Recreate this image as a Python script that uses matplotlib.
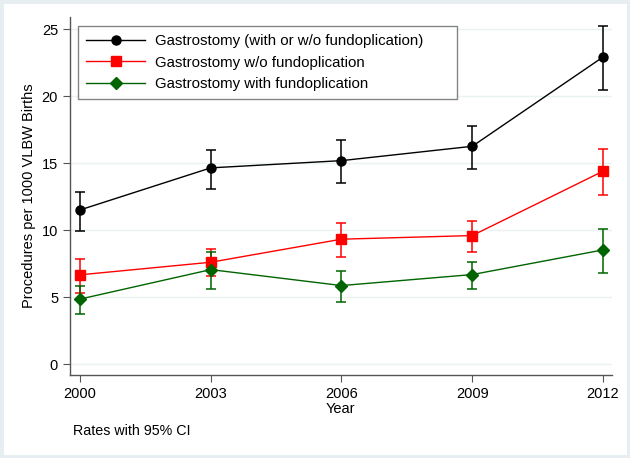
import numpy as np
import matplotlib
matplotlib.use("Agg")
import matplotlib.pyplot as plt
from matplotlib.patches import Rectangle

plt.rcParams['font.family'] = ['Liberation Sans', 'DejaVu Sans']

# Data
years = [2000, 2003, 2006, 2009, 2012]

total = [11.5, 14.64, 15.18, 16.25, 22.91]
total_lo = [9.94, 13.07, 13.52, 14.59, 20.45]
total_hi = [12.85, 15.98, 16.70, 17.77, 25.2]

no_fundo = [6.66, 7.6, 9.32, 9.59, 14.39]
no_fundo_lo = [5.27, 6.6, 8.0, 8.37, 12.6]
no_fundo_hi = [7.83, 8.6, 10.51, 10.71, 16.05]

with_fundo = [4.85, 7.05, 5.86, 6.68, 8.52]
with_fundo_lo = [3.75, 5.6, 4.67, 5.62, 6.83]
with_fundo_hi = [5.82, 8.4, 6.96, 7.63, 10.06]

labels = ["Gastrostomy (with or w/o fundoplication)",
          "Gastrostomy w/o fundoplication",
          "Gastrostomy with fundoplication"]

fig = plt.figure(figsize=(6.3, 4.58), dpi=100)
fig.patches.append(Rectangle((0, 0), 1, 1, transform=fig.transFigure,
                             facecolor='white', edgecolor='#e6eef1',
                             linewidth=5, zorder=-10))
ax = fig.add_axes([0.111, 0.181, 0.86, 0.782])

series = [
    (total, total_lo, total_hi, 'black', 'o', 6.5),
    (no_fundo, no_fundo_lo, no_fundo_hi, '#ff0000', 's', 6.5),
    (with_fundo, with_fundo_lo, with_fundo_hi, '#006400', 'D', 6),
]

handles = []
for (vals, lo, hi, col, mk, ms), lab in zip(series, labels):
    vals = np.array(vals)
    err = [vals - np.array(lo), np.array(hi) - vals]
    ax.errorbar(years, vals, yerr=err, fmt='none', ecolor=col,
                elinewidth=1.1, capsize=3.5, capthick=1.1, zorder=3)
    h, = ax.plot(years, vals, color=col, marker=mk, markersize=ms,
                 linewidth=1.0, zorder=4, label=lab)
    handles.append(h)

ax.set_xlim(1999.77, 2012.2)
ax.set_ylim(-0.82, 25.9)
ax.set_xticks(years)
ax.set_yticks([0, 5, 10, 15, 20, 25])
ax.grid(axis='y', color='#eaf2f3', linewidth=1.0)
ax.set_axisbelow(True)

for s in ['top', 'right']:
    ax.spines[s].set_visible(False)
for s in ['left', 'bottom']:
    ax.spines[s].set_color('#555555')
    ax.spines[s].set_linewidth(1.0)

ax.tick_params(axis='both', direction='out', length=5, width=0.8,
               color='#555555', labelsize=10.5)
ax.set_xlabel("Year", fontsize=10.5, labelpad=1)
ax.set_ylabel("Procedures per 1000 VLBW Births", fontsize=10.5, labelpad=4)

leg = ax.legend(handles=handles, loc='upper left', mode='expand',
                bbox_to_anchor=(0.015, 0.0, 0.70, 0.975), fontsize=10.8,
                frameon=True, fancybox=False, edgecolor='#666666',
                handlelength=3.9, handletextpad=0.7, labelspacing=0.5,
                borderpad=0.55, borderaxespad=0)
leg.get_frame().set_linewidth(1.0)

fig.text(0.116, 0.06, "Rates with 95% CI", fontsize=10.3, ha='left', va='center')

fig.savefig("out.png", dpi=100)
